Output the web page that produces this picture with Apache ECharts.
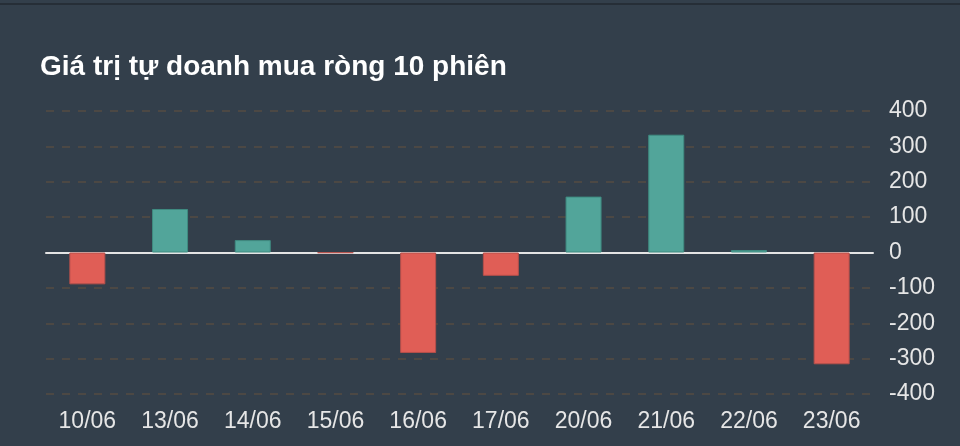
<html lang="vi">
<head>
<meta charset="UTF-8">
<title>Giá trị tự doanh mua ròng 10 phiên</title>
<style>
  html, body { margin: 0; padding: 0; background: #333f4b; }
  #topline { position: absolute; left: 0; top: 3px; width: 960px; height: 2px; background: #262e37; }
  #main { width: 960px; height: 446px; }
</style>
</head>
<body>
<div id="main"></div>
<div id="topline"></div>
<script src="https://cdn.jsdelivr.net/npm/echarts@6/dist/echarts.min.js"></script>
<script>
var titleText = 'Giá trị tự doanh mua ròng 10 phiên';
var days = ['10/06', '13/06', '14/06', '15/06', '16/06', '17/06', '20/06', '21/06', '22/06', '23/06'];
var netValues = [-90, 123, 35, -1, -284, -66, 158, 333, 7, -316];
var yTicks = { min: -400, max: 400, step: 100 };

var upColor = '#52a59a';
var downColor = '#e05e56';

var chart = echarts.init(document.getElementById('main'));
var option = {
    backgroundColor: '#333f4b',
    animation: false,
    title: {
        text: titleText,
        left: 35,
        top: 48,
        textStyle: {
            color: '#ffffff',
            fontFamily: 'Liberation Sans, Arial, sans-serif',
            fontSize: 28,
            fontWeight: 'bold'
        }
    },
    grid: { left: 46, right: 87, top: 111, bottom: 52 },
    xAxis: {
        type: 'category',
        data: days,
        axisLine: { onZero: true, lineStyle: { color: '#e4e4e4', width: 2 } },
        axisTick: { show: false },
        axisLabel: {
            color: '#e6e6e6',
            fontFamily: 'Liberation Sans, Arial, sans-serif',
            fontSize: 23,
            margin: 16
        },
        splitLine: { show: false }
    },
    yAxis: {
        type: 'value',
        position: 'right',
        min: yTicks.min,
        max: yTicks.max,
        interval: yTicks.step,
        axisLine: { show: false },
        axisTick: { show: false },
        axisLabel: {
            color: '#e6e6e6',
            fontFamily: 'Liberation Sans, Arial, sans-serif',
            fontSize: 23,
            margin: 16
        },
        splitLine: {
            lineStyle: { color: '#554c43', width: 1.5, type: [8, 8] }
        }
    },
    series: [{
        type: 'bar',
        barWidth: 36,
        data: netValues.map(function (v) {
            return {
                value: v,
                itemStyle: {
                    color: v >= 0 ? upColor : downColor,
                    borderColor: v >= 0 ? '#3f8b81' : '#b5504b',
                    borderWidth: 1
                }
            };
        })
    }]
};
chart.setOption(option);
</script>
</body>
</html>
